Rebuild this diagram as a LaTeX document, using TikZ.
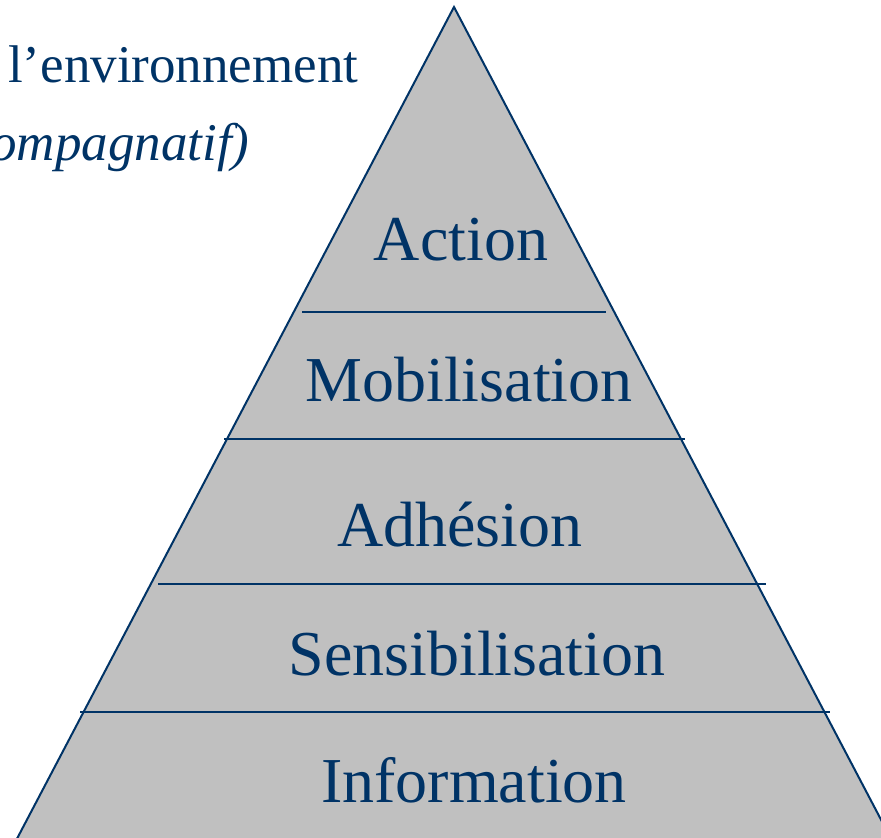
\documentclass[tikz,border=0pt]{standalone}
\usepackage{fontspec}
\setmainfont{Liberation Serif}
\usepackage{tikz}
\usepackage{xcolor}
\usetikzlibrary{positioning}
\definecolor{navy}{RGB}{0,51,102}
\definecolor{pyrgray}{RGB}{192,192,192}

\begin{document}
\begin{tikzpicture}[x=1pt, y=-1pt,
    level/.style={text=navy, font=\fontsize{64}{70}\selectfont, anchor=base},
    sep/.style={draw=navy, line width=2pt}]
            \useasboundingbox (0, 0) rectangle (881, 838);
            \clip (0, 0) rectangle (881, 838);
            \coordinate (T) at (454, 7);
            \filldraw[fill=pyrgray, draw=navy, line width=2pt] (T) -- (10, 852) -- (898, 852) -- cycle;
            \draw[sep] (302, 312) -- (606, 312);
            \draw[sep] (224, 439) -- (685, 439);
            \draw[sep] (158, 584) -- (766, 584);
            \draw[sep] (80, 712) -- (830, 712);
            \node[level] (action) at (461, 260) {Action};
            \node[level] (mobil) at (469, 401) {Mobilisation};
            \node[level] (adhes) at (460, 546) {Adhésion};
            \node[level] (sensib) at (477, 675) {Sensibilisation};
            \node[level] (info) at (474, 802) {Information};
            \node[text=navy, font=\fontsize{53}{60}\selectfont, anchor=base east] (env) at (362, 82) {l’environnement};
            \node[text=navy, font=\fontsize{53}{60}\selectfont\itshape, anchor=base east] (accomp) at (253, 160) {ompagnatif)};
        \end{tikzpicture}
\end{document}
